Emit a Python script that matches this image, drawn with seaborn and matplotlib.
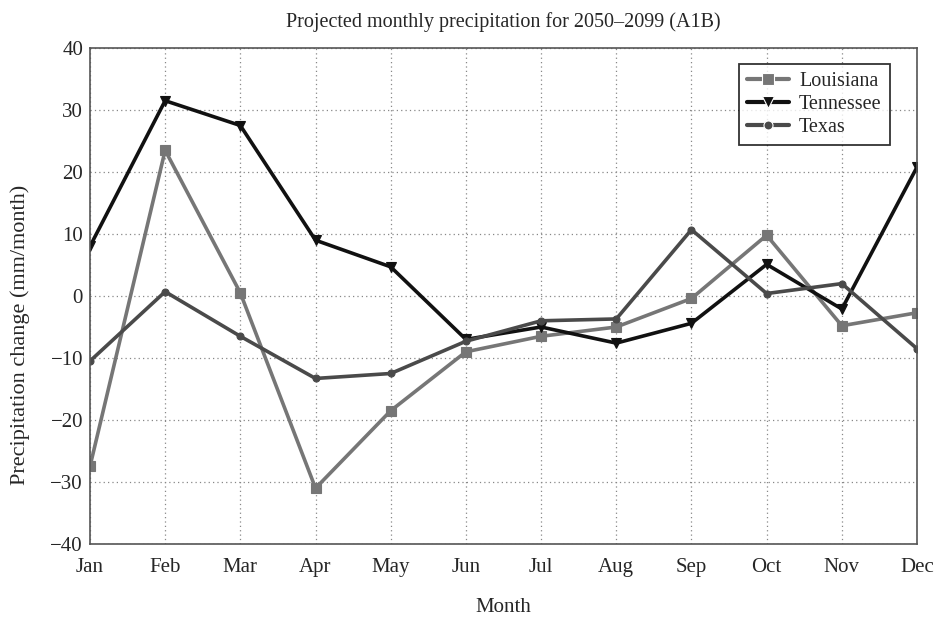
import matplotlib
matplotlib.use("Agg")
import matplotlib.pyplot as plt
import seaborn as sns
import pandas as pd

months = ["Jan", "Feb", "Mar", "Apr", "May", "Jun", "Jul", "Aug", "Sep", "Oct", "Nov", "Dec"]
louisiana = [-27.5, 23.5, 0.5, -31.0, -18.5, -9.0, -6.5, -5.0, -0.4, 9.8, -4.8, -2.7]
tennessee = [8.0, 31.5, 27.5, 9.0, 4.7, -7.0, -5.0, -7.6, -4.4, 5.1, -2.1, 20.8]
texas = [-10.5, 0.7, -6.5, -13.3, -12.5, -7.3, -4.0, -3.7, 10.7, 0.4, 2.0, -8.5]
y_ticks = [-40, -30, -20, -10, 0, 10, 20, 30, 40]
y_tick_labels = ["\u221240", "\u221230", "\u221220", "\u221210", "0", "10", "20", "30", "40"]

series = {"Louisiana": louisiana, "Tennessee": tennessee, "Texas": texas}
rows = []
for name, vals in series.items():
    for i, (m, v) in enumerate(zip(months, vals)):
        rows.append({"idx": i, "Month": m, "value": v, "State": name})
df = pd.DataFrame(rows)

sns.set_theme(style="white")
plt.rcParams["font.family"] = ["Liberation Serif", "DejaVu Serif"]

fig = plt.figure(figsize=(9.42, 6.21), dpi=100)
ax = fig.add_axes([0.0955, 0.124, 0.878, 0.7987])

palette = {"Louisiana": "#767676", "Tennessee": "#111111", "Texas": "#4a4a4a"}
markers = {"Louisiana": "s", "Tennessee": "v", "Texas": "o"}
sizes_m = {"Louisiana": 6.5, "Tennessee": 6.5, "Texas": 5}

sns.lineplot(data=df, x="idx", y="value", hue="State", style="State",
             palette=palette, markers=markers, dashes=False, linewidth=2.6,
             markersize=6, markeredgewidth=0.8, ax=ax, legend=True)
for line, name in zip(ax.lines[:3], series.keys()):
    line.set_markersize(sizes_m[name])
    line.set_markeredgecolor(palette[name])

ax.set_xlim(0, 11)
ax.set_ylim(-40, 40)
ax.set_xticks(range(len(months)))
ax.set_xticklabels(months)
ax.set_yticks(y_ticks)
ax.set_yticklabels(y_tick_labels)
ax.tick_params(axis="both", labelsize=15, direction="in", length=5, color="#555555")
ax.tick_params(axis="x", pad=10)
ax.tick_params(axis="y", pad=5)
ax.grid(True, linestyle=(0, (1, 2.5)), color="#888888", linewidth=0.9)
for s in ax.spines.values():
    s.set_color("#555555")
    s.set_linewidth(1.2)

ax.set_title("Projected monthly precipitation for 2050\u20132099 (A1B)", fontsize=14.5, pad=15)
ax.set_xlabel("Month", fontsize=15, labelpad=15)
ax.set_ylabel("Precipitation change (mm/month)", fontsize=16)
ax.yaxis.set_label_coords(-0.072, 0.421)

handles, labels = ax.get_legend_handles_labels()
for h, name in zip(handles, labels):
    if name in sizes_m:
        h.set_markersize(sizes_m[name] + 1.5)
        h.set_linewidth(3.0)
leg = ax.legend(handles, labels, loc="upper right", bbox_to_anchor=(0.967, 0.968), fontsize=14.5,
                frameon=True, fancybox=False, edgecolor="black", borderaxespad=0,
                handlelength=2.1, borderpad=0.4, labelspacing=0.2, handletextpad=0.5)
leg.get_frame().set_linewidth(1.3)

fig.savefig("out.png", dpi=100)
